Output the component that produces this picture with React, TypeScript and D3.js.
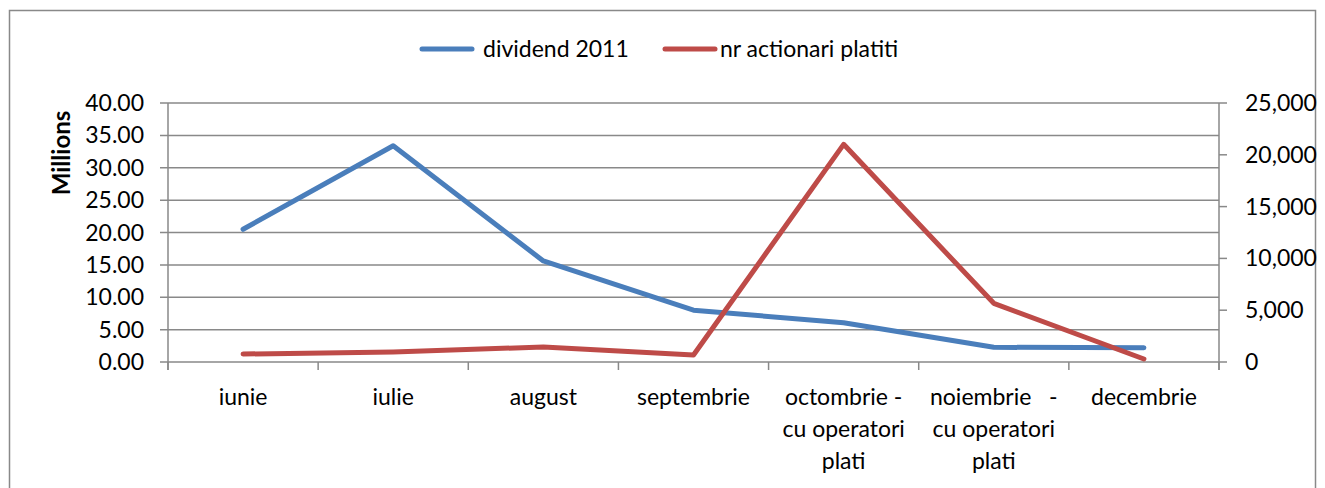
import React from "react";
import * as d3 from "d3";

const categories: string[][] = [
  ["iunie"],
  ["iulie"],
  ["august"],
  ["septembrie"],
  ["octombrie -", "cu operatori", "plati"],
  ["noiembrie   -", "cu operatori", "plati"],
  ["decembrie"],
];
const dividend2011: number[] = [20.5, 33.4, 15.6, 8.0, 6.07, 2.27, 2.2];
const nrActionari: number[] = [770, 965, 1450, 675, 21010, 5665, 290];
const leftTicks: number[] = [0, 5, 10, 15, 20, 25, 30, 35, 40];
const rightTicks: number[] = [0, 5000, 10000, 15000, 20000, 25000];
const seriesNames = ["dividend 2011", "nr actionari platiti"];

const BLUE = "#4A7EBB";
const RED = "#BE4B48";
const GRID = "#898989";
const FONT = "Lato, 'Open Sans', sans-serif";
const FS = 23;

export default function App() {
  const W = 1325, H = 488;
  const x0 = 168, x1 = 1219, yTop = 103, yBot = 362;
  const xBand = d3.scaleBand<number>().domain(d3.range(categories.length)).range([x0, x1]);
  const yL = d3.scaleLinear().domain([0, 40]).range([yBot, yTop]);
  const yR = d3.scaleLinear().domain([0, 25000]).range([yBot, yTop]);
  const cx = (i: number) => (xBand(i) as number) + xBand.bandwidth() / 2;
  const lineL = d3.line<number>().x((_, i) => cx(i)).y((d) => yL(d));
  const lineR = d3.line<number>().x((_, i) => cx(i)).y((d) => yR(d));
  const fmtL = d3.format(".2f");
  const fmtR = d3.format(",");
  const bandEdges = d3.range(categories.length + 1).map((i) => x0 + i * xBand.bandwidth());

  return (
    <svg width={W} height={H} style={{ position: "absolute", left: 0, top: 0, display: "block" }} fontFamily={FONT}>
      <rect x={0} y={0} width={W} height={H} fill="#fff" />
      <rect x={9.5} y={10.5} width={1306} height={490} fill="none" stroke={GRID} strokeWidth={1.5} />
      {leftTicks.map((t) => (
        <line key={"g" + t} x1={x0 - 8} x2={x1} y1={yL(t)} y2={yL(t)} stroke={GRID} strokeWidth={1.5} />
      ))}
      <line x1={x0} x2={x0} y1={yTop} y2={yBot + 8} stroke={GRID} strokeWidth={1.5} />
      <line x1={x1} x2={x1} y1={yTop} y2={yBot + 8} stroke={GRID} strokeWidth={1.5} />
      {bandEdges.map((e, i) => (
        <line key={"bt" + i} x1={e} x2={e} y1={yBot} y2={yBot + 8} stroke={GRID} strokeWidth={1.5} />
      ))}
      {rightTicks.map((t) => (
        <line key={"rt" + t} x1={x1} x2={x1 + 8} y1={yR(t)} y2={yR(t)} stroke={GRID} strokeWidth={1.5} />
      ))}
      {leftTicks.map((t) => (
        <text key={"lt" + t} x={x0 - 24} y={yL(t)} dy="0.35em" textAnchor="end" fontSize={FS} fill="#000">
          {fmtL(t)}
        </text>
      ))}
      {rightTicks.map((t) => (
        <text key={"rl" + t} x={x1 + 26} y={yR(t)} dy="0.35em" textAnchor="start" fontSize={FS} fill="#000">
          {fmtR(t)}
        </text>
      ))}
      <text transform={`translate(70,153) rotate(-90)`} textAnchor="middle" fontSize={24} fontWeight="bold" fill="#000">
        Millions
      </text>
      {categories.map((lines, i) => (
        <text key={"c" + i} x={cx(i)} y={397} textAnchor="middle" fontSize={FS} fill="#000" style={{ whiteSpace: "pre" }}>
          {lines.map((l, j) => (
            <tspan key={j} x={cx(i)} dy={j === 0 ? "0.35em" : 32}>{l}</tspan>
          ))}
        </text>
      ))}
      <path d={lineL(dividend2011) || ""} fill="none" stroke={BLUE} strokeWidth={5} strokeLinejoin="round" strokeLinecap="round" />
      <path d={lineR(nrActionari) || ""} fill="none" stroke={RED} strokeWidth={5} strokeLinejoin="round" strokeLinecap="round" />
      <line x1={422} x2={472} y1={49} y2={49} stroke={BLUE} strokeWidth={5} strokeLinecap="round" />
      <text x={483} y={49} dy="0.35em" fontSize={FS} fill="#000">{seriesNames[0]}</text>
      <line x1={665} x2={715} y1={49} y2={49} stroke={RED} strokeWidth={5} strokeLinecap="round" />
      <text x={720} y={49} dy="0.35em" fontSize={FS} fill="#000">{seriesNames[1]}</text>
    </svg>
  );
}
